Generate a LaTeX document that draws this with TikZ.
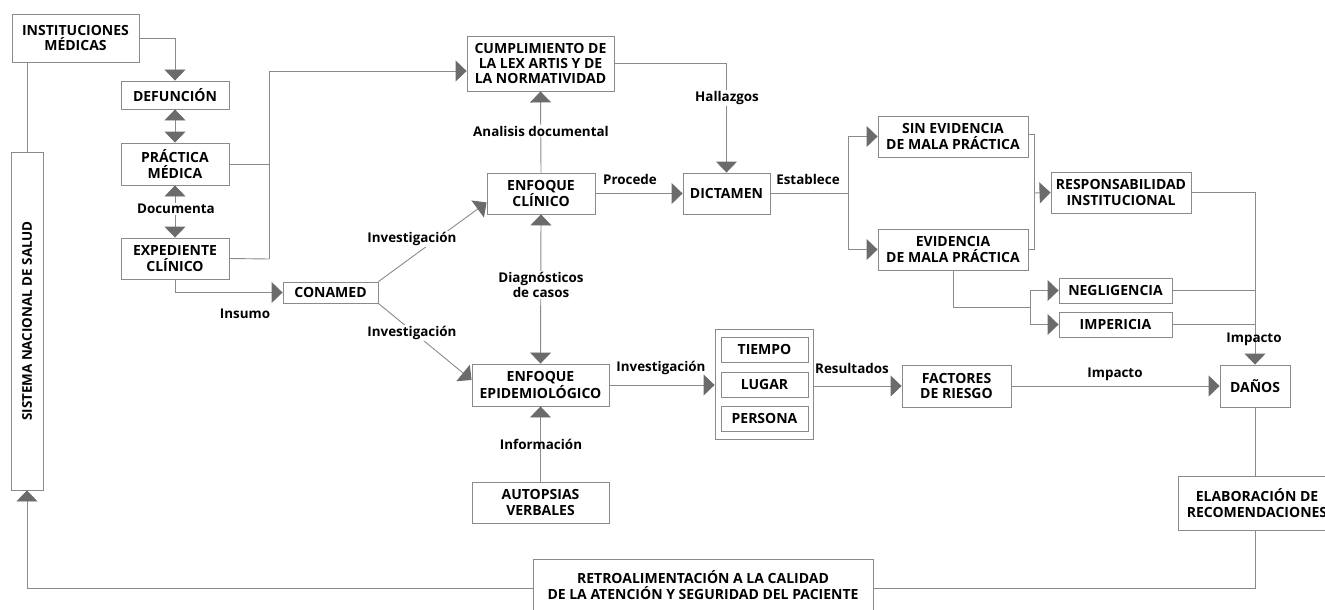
\documentclass[tikz,border=0pt]{standalone}
\usepackage{fontspec}
\setmainfont{Open Sans}
\usetikzlibrary{arrows.meta,calc}
\definecolor{ln}{HTML}{8A8A8A}
\definecolor{hd}{HTML}{6B6B6D}
\begin{document}
\begin{tikzpicture}[x=1pt,y=-1pt,
  box/.style={draw=ln,line width=0.9pt,fill=white,align=center,inner sep=0pt,
    font=\fontsize{14}{15.3}\selectfont\bfseries,text=black},
  lbl/.style={fill=white,inner sep=1pt,align=center,font=\fontsize{13.4}{15}\selectfont\bfseries,text=black},
  lblc/.style={inner sep=1pt,align=center,font=\fontsize{13.4}{15}\selectfont\bfseries,text=black},
  con/.style={draw=ln,line width=0.9pt},
  arr/.style={con,-{Triangle[width=21pt,length=11pt,color=hd]}},
  darr/.style={con,{Triangle[width=21pt,length=11pt,color=hd]}-{Triangle[width=21pt,length=11pt,color=hd]}}
]
\useasboundingbox (0,0) rectangle (1325,610);

% nodes
\node[box,minimum width=127pt,minimum height=48pt] (inst) at (75.5,38) {INSTITUCIONES\\MÉDICAS};
\node[box,minimum width=108pt,minimum height=28pt] (def) at (175,95) {DEFUNCIÓN};
\node[box,minimum width=108pt,minimum height=42pt] (prac) at (175,164) {PRÁCTICA\\MÉDICA};
\node[box,minimum width=108pt,minimum height=41pt] (exp) at (175,258.5) {EXPEDIENTE\\CLÍNICO};
\node[box,minimum width=32pt,minimum height=338pt] (snds) at (27,321) {};
\node[rotate=90,font=\fontsize{13.4}{15}\selectfont\bfseries] (sndst) at (snds.center) {SISTEMA NACIONAL DE SALUD};
\node[box,minimum width=95pt,minimum height=21pt] (con) at (330.5,292.5) {CONAMED};
\node[box,minimum width=147pt,minimum height=55pt] (cum) at (540.5,63.5) {CUMPLIMIENTO DE\\LA LEX ARTIS Y DE\\LA NORMATIVIDAD};
\node[box,minimum width=108pt,minimum height=41pt] (ecl) at (541,193.5) {ENFOQUE\\CLÍNICO};
\node[box,minimum width=87pt,minimum height=41pt] (dic) at (726.5,193.5) {DICTAMEN};
\node[box,minimum width=150pt,minimum height=41pt] (sin) at (953,136.5) {SIN EVIDENCIA\\DE MALA PRÁCTICA};
\node[box,minimum width=150pt,minimum height=41pt] (evi) at (953,249.5) {EVIDENCIA\\DE MALA PRÁCTICA};
\node[box,minimum width=140pt,minimum height=41pt] (resp) at (1121,192.5) {RESPONSABILIDAD\\INSTITUCIONAL};
\node[box,minimum width=113pt,minimum height=25pt] (neg) at (1115.5,290.5) {NEGLIGENCIA};
\node[box,minimum width=113pt,minimum height=25pt] (imp) at (1115.5,324.5) {IMPERICIA};
\node[box,minimum width=137pt,minimum height=42pt] (epi) at (540.5,385) {ENFOQUE\\EPIDEMIOLÓGICO};
\node[box,minimum width=98pt,minimum height=110pt] (tlp) at (764,384) {};
\node[box,minimum width=87pt,minimum height=25pt] (tie) at (764.5,349.5) {TIEMPO};
\node[box,minimum width=87pt,minimum height=25pt] (lug) at (764.5,384.5) {LUGAR};
\node[box,minimum width=87pt,minimum height=25pt] (per) at (764.5,418.5) {PERSONA};
\node[box,minimum width=137pt,minimum height=41pt] (aut) at (540.5,502.5) {AUTOPSIAS\\VERBALES};
\node[box,minimum width=109pt,minimum height=42pt] (fac) at (956.5,386) {FACTORES\\DE RIESGO};
\node[box,minimum width=70pt,minimum height=42pt] (dan) at (1255,386) {DAÑOS};
\node[box,minimum width=158pt,minimum height=54pt] (ela) at (1257,503) {ELABORACIÓN DE\\RECOMENDACIONES};
\node[box,minimum width=340pt,minimum height=56pt,text depth=0pt] (ret) at (703,587) {};
\node[font=\fontsize{14}{15.3}\selectfont\bfseries,align=center] (rett) at (703,585) {RETROALIMENTACIÓN A LA CALIDAD\\DE LA ATENCIÓN Y SEGURIDAD DEL PACIENTE};

% left column
\draw[con] (snds.north |- inst.south) -- (snds.north);
\draw[arr] (inst.east) -| (def.north);
\draw[darr] (def.south) -- (prac.north);
\draw[darr] (prac.south) -- (exp.north);
\node[lbl] (ldoc) at (176,209) {Documenta};
\coordinate (j1) at (269,259);
\draw[con] (prac.east) -- (prac.east -| j1);
\draw[con] (exp.east) -- (j1);
\draw[arr] (j1) -- (269,71) -- (cum.west |- 0,71);
\draw[arr] (exp.south) |- (con.west);
\node[lblc] (lins) at (245,314) {Insumo};

% conamed diagonals
\draw[arr] (con.north east) -- ([yshift=-9pt]ecl.west);
\draw[arr] (con.south east) -- ([yshift=5pt]epi.west);
\node[lbl] (linv1) at (412,239) {Investigación};
\node[lbl] (linv2) at (412,333) {Investigación};

% enfoque clinico
\draw[arr] (ecl.north) -- (cum.south);
\node[lbl] (lana) at (541,131) {Analisis documental};
\draw[darr] (ecl.south) -- (epi.north);
\node[lbl] (ldia) at (541,285) {Diagnósticos\\de casos};
\draw[arr] (ecl.east) -- (dic.west);
\node[lblc] (lpro) at (630,179) {Procede};
\draw[arr] (cum.east) -| (dic.north);
\node[lbl] (lhal) at (727,98) {Hallazgos};

% dictamen branch
\coordinate (j2) at (848,193.5);
\draw[con] (dic.east) -- (j2);
\node[lblc] (lest) at (808,179) {Establece};
\draw[arr] (j2) |- (sin.west);
\draw[arr] (j2) |- (evi.west);
\coordinate (j3) at (1034,193);
\draw[con] ([yshift=2.5pt]sin.east) -| (j3) |- (evi.east);
\draw[arr] (j3) -- (resp.west);
\draw[arr] (resp.east) -| (dan.north);
\draw[con] (neg.east) -- (neg.east -| dan.north);
\draw[con] (imp.east) -- (imp.east -| dan.north);
\node[lblc] (limp1) at (1254,339) {Impacto};
\coordinate (j4) at (1030,307);
\draw[con] (evi.south) |- (j4);
\draw[arr] (j4) |- (neg.west);
\draw[arr] (j4) |- (imp.west);

% epidemiologic branch
\draw[arr] (aut.north) -- (epi.south);
\node[lblc] (linf) at (541,444) {Información};
\draw[arr] (epi.east) -- (tlp.west |- epi.east);
\node[lblc] (linv3) at (661,368) {Investigación};
\draw[arr] (tlp.east |- fac.west) -- (fac.west);
\node[lblc] (lres) at (852,368) {Resultados};
\draw[arr] (fac.east) -- (dan.west);
\node[lblc] (limp2) at (1115,374) {Impacto};

% feedback loop
\draw[con] (dan.south) -- (dan.south |- ela.north);
\draw[con] (dan.south |- ela.south) |- (ret.east |- 0,588);
\draw[arr] (ret.west |- 0,588) -| (snds.south);
\end{tikzpicture}
\end{document}
